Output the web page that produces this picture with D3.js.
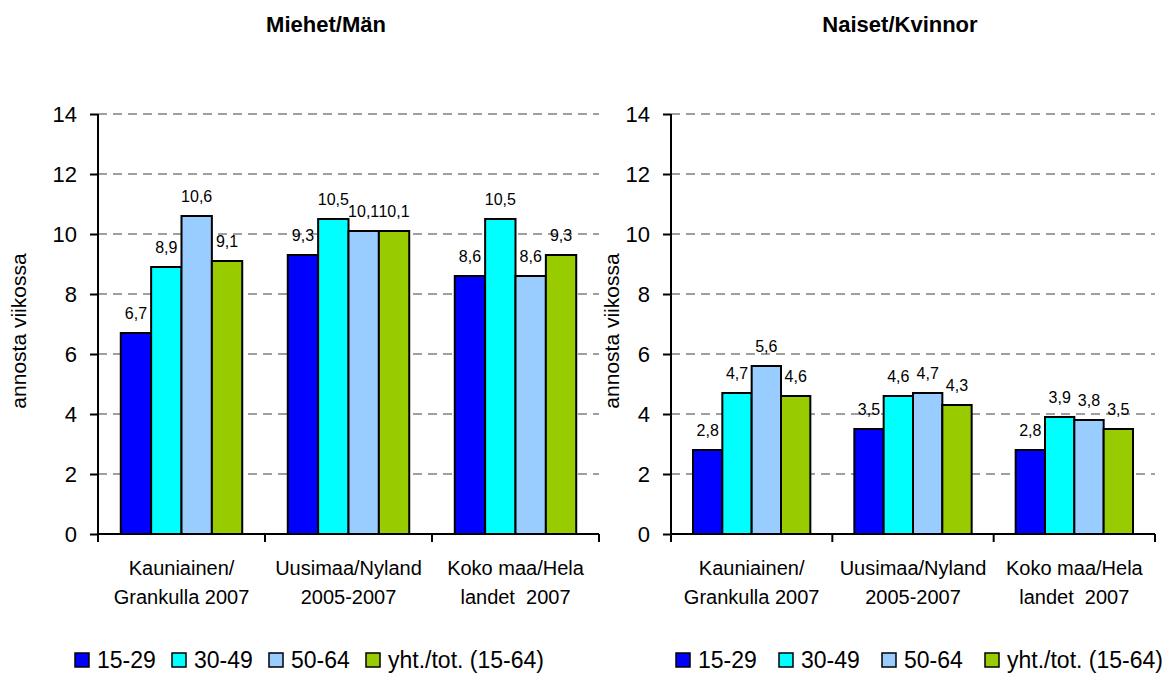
<!DOCTYPE html>
<html>
<head>
<meta charset="utf-8">
<script src="https://cdn.jsdelivr.net/npm/d3@7"></script>
<style>
  body { margin: 0; background: #fff; }
  svg { font-family: Arial, "Liberation Sans", sans-serif; }
</style>
</head>
<body>
<div id="chart"></div>
<script>
// categories (two text lines each), series names and values
const categories = [
  ['Kauniainen/', 'Grankulla 2007'],
  ['Uusimaa/Nyland', '2005-2007'],
  ['Koko maa/Hela', 'landet  2007']
];
const seriesNames = ['15-29', '30-49', '50-64', 'yht./tot. (15-64)'];
const seriesColors = ['#0000ff', '#00ffff', '#99ccff', '#99cc00'];
const menValues = [
  [6.7, 8.9, 10.6, 9.1],
  [9.3, 10.5, 10.1, 10.1],
  [8.6, 10.5, 8.6, 9.3]
];
const womenValues = [
  [2.8, 4.7, 5.6, 4.6],
  [3.5, 4.6, 4.7, 4.3],
  [2.8, 3.9, 3.8, 3.5]
];
const yTicks = [0, 2, 4, 6, 8, 10, 12, 14];
const yTitle = 'annosta viikossa';

const svg = d3.select('#chart').append('svg')
  .attr('width', 1171)
  .attr('height', 673);

// one panel = one grouped bar chart
function drawPanel(opts) {
  const g = svg.append('g');
  const top = 114, bottom = 534;

  const y = d3.scaleLinear().domain([0, 14]).range([bottom, top]);
  const x0 = d3.scaleBand()
    .domain(d3.range(categories.length))
    .range([opts.left, opts.right])
    .paddingInner(1.5 / 5.5)
    .paddingOuter(0.75 / 5.5);
  const x1 = d3.scaleBand()
    .domain(d3.range(seriesNames.length))
    .range([0, x0.bandwidth()]);

  // dashed gridlines
  g.selectAll('.grid')
    .data(yTicks.filter(d => d > 0))
    .enter().append('line')
    .attr('x1', opts.left).attr('x2', opts.right)
    .attr('y1', d => y(d)).attr('y2', d => y(d))
    .attr('stroke', '#808080')
    .attr('stroke-width', 1.5)
    .attr('stroke-dasharray', '9,6');

  // y axis
  const yAxis = d3.axisLeft(y).tickValues(yTicks).tickSize(8).tickPadding(13);
  const ya = g.append('g').attr('transform', `translate(${opts.left},0)`).call(yAxis);
  ya.select('.domain').attr('stroke', '#000').attr('stroke-width', 2).attr('d', `M0,${top}V${bottom}`);
  ya.selectAll('.tick line').attr('stroke', '#000').attr('stroke-width', 2);
  ya.selectAll('.tick text').attr('font-size', 22).attr('fill', '#000')
    .style('font-family', 'Arial, "Liberation Sans", sans-serif');

  // bars
  const groups = g.selectAll('.grp')
    .data(opts.values)
    .enter().append('g')
    .attr('transform', (d, i) => `translate(${x0(i)},0)`);

  groups.selectAll('rect')
    .data(d => d)
    .enter().append('rect')
    .attr('x', (d, j) => x1(j))
    .attr('width', x1.bandwidth())
    .attr('y', d => y(d))
    .attr('height', d => y(0) - y(d))
    .attr('fill', (d, j) => seriesColors[j])
    .attr('stroke', '#000')
    .attr('stroke-width', 2);

  groups.selectAll('.lbl')
    .data(d => d)
    .enter().append('text')
    .attr('x', (d, j) => x1(j) + x1.bandwidth() / 2)
    .attr('y', d => y(d) - 14)
    .attr('text-anchor', 'middle')
    .attr('font-size', 16)
    .text(d => d3.format('.1f')(d).replace('.', ','));

  // x axis baseline with ticks at category boundaries
  g.append('line')
    .attr('x1', opts.left).attr('x2', opts.right)
    .attr('y1', y(0)).attr('y2', y(0))
    .attr('stroke', '#000').attr('stroke-width', 2);
  const step = (opts.right - opts.left) / categories.length;
  g.selectAll('.xtick')
    .data(d3.range(categories.length + 1))
    .enter().append('line')
    .attr('x1', d => opts.left + d * step).attr('x2', d => opts.left + d * step)
    .attr('y1', y(0)).attr('y2', y(0) + 8)
    .attr('stroke', '#000').attr('stroke-width', 2);

  // category labels
  const cl = g.selectAll('.cat')
    .data(categories)
    .enter().append('text')
    .attr('text-anchor', 'middle')
    .attr('font-size', 20)
    .style('white-space', 'pre');
  cl.selectAll('tspan')
    .data((d, i) => d.map(t => ({ t, i })))
    .enter().append('tspan')
    .attr('x', d => opts.left + (d.i + 0.5) * step)
    .attr('y', (d, k) => 575 + k * 29)
    .text(d => d.t);

  // y axis title
  g.append('text')
    .attr('transform', `translate(${opts.yTitleX},331) rotate(-90)`)
    .attr('text-anchor', 'middle')
    .attr('font-size', 21)
    .text(yTitle);

  // chart title
  g.append('text')
    .attr('x', opts.titleX).attr('y', 32)
    .attr('text-anchor', 'middle')
    .attr('font-size', 22)
    .attr('font-weight', 'bold')
    .text(opts.title);

  // legend
  const leg = g.selectAll('.leg')
    .data(seriesNames)
    .enter().append('g')
    .attr('transform', (d, i) => `translate(${opts.legendX + i * opts.legendStep},0)`);
  leg.append('rect')
    .attr('x', 0).attr('y', 653)
    .attr('width', 14).attr('height', 14)
    .attr('fill', (d, i) => seriesColors[i])
    .attr('stroke', '#000').attr('stroke-width', 1.5);
  leg.append('text')
    .attr('x', 22).attr('y', 668)
    .attr('font-size', 23)
    .text(d => d);
}

drawPanel({
  left: 98, right: 599, values: menValues, title: 'Miehet/Män',
  titleX: 326, yTitleX: 26, legendX: 75, legendStep: 97
});
drawPanel({
  left: 671, right: 1155, values: womenValues, title: 'Naiset/Kvinnor',
  titleX: 900, yTitleX: 619, legendX: 676, legendStep: 103
});
</script>
</body>
</html>
